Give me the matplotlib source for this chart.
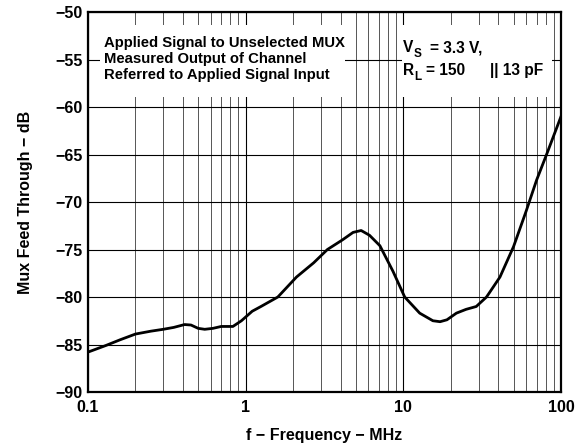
import numpy as np
import matplotlib.pyplot as plt
from matplotlib.patches import Rectangle
from matplotlib.ticker import FixedLocator, NullFormatter

plt.rcParams['font.family'] = ['Liberation Sans', 'DejaVu Sans']
plt.rcParams['font.weight'] = 'bold'

# feed-through curve
freq_mhz = [0.1, 0.13, 0.16, 0.2, 0.25, 0.3, 0.35, 0.41, 0.45, 0.5, 0.55,
            0.62, 0.7, 0.83, 0.94, 1.1, 1.25, 1.6, 2.1, 2.7, 3.3, 4.1, 4.8,
            5.4, 6.1, 7.1, 8.6, 10.2, 12.7, 15.4, 17.1, 18.9, 21.7, 25, 29,
            33.7, 41, 50, 60, 70, 81, 90, 100]
feed_db = [-85.8, -85.1, -84.5, -83.9, -83.6, -83.4, -83.2, -82.9, -82.95,
           -83.3, -83.4, -83.3, -83.1, -83.1, -82.5, -81.5, -81.0, -80.0,
           -77.9, -76.4, -75.0, -74.0, -73.2, -73.0, -73.5, -74.6, -77.3,
           -80.0, -81.7, -82.5, -82.6, -82.4, -81.7, -81.3, -81.0, -80.0,
           -77.9, -74.7, -71.0, -67.7, -65.0, -63.0, -61.0]

x_ticks = [0.1, 1, 10, 100]
x_labels = ['0.1', '1', '10', '100']
y_ticks = list(range(-90, -45, 5))
y_labels = ['\u2212%d' % abs(v) for v in y_ticks]

note_left = ['Applied Signal to Unselected MUX',
             'Measured Output of Channel',
             'Referred to Applied Signal Input']

fig = plt.figure(figsize=(5.8, 4.44), dpi=100)
ax = fig.add_axes([88 / 580, 1 - 392 / 444, 473 / 580, 380 / 444])

ax.set_xscale('log')
ax.set_xlim(0.1, 100)
ax.set_ylim(-90, -50)

minors = [m * d for d in (0.1, 1, 10) for m in range(2, 10)]
ax.xaxis.set_major_locator(FixedLocator(x_ticks))
ax.xaxis.set_minor_locator(FixedLocator(minors))
ax.xaxis.set_minor_formatter(NullFormatter())
ax.set_xticks(x_ticks)
ax.set_xticklabels(x_labels)
ax.set_yticks(y_ticks)
ax.set_yticklabels(y_labels)
ax.tick_params(which='both', length=0, labelsize=11.5, pad=4)
ax.tick_params(axis='x', pad=6)
for lab in ax.get_xticklabels() + ax.get_yticklabels():
    lab.set_fontweight('bold')

ax.grid(True, axis='y', color='black', lw=0.8)
ax.grid(True, axis='x', which='major', color='black', lw=0.8)
ax.grid(True, axis='x', which='minor', color='#555555', lw=0.7)
ax.set_axisbelow(True)

for s in ax.spines.values():
    s.set_linewidth(1.6)

# white panels behind the notes
ax.add_patch(Rectangle((0.025, 0.776), 0.518, 0.19, transform=ax.transAxes,
                       facecolor='white', edgecolor='none', zorder=1.5))
ax.add_patch(Rectangle((0.664, 0.776), 0.317, 0.19, transform=ax.transAxes,
                       facecolor='white', edgecolor='none', zorder=1.5))

ax.plot(freq_mhz, feed_db, color='black', lw=2, zorder=3)

for i, line in enumerate(note_left):
    ax.text(0.034, 0.918 - i * 0.042, line, transform=ax.transAxes,
            fontsize=10.7, fontweight='bold', va='center', zorder=4)

big = dict(transform=ax.transAxes, fontsize=11.2, fontweight='bold',
           va='center', zorder=4)
small = dict(transform=ax.transAxes, fontsize=8.5, fontweight='bold',
             va='center', zorder=4)
ax.text(0.666, 0.906, 'V', **big)
ax.text(0.689, 0.890, 'S', **small)
ax.text(0.723, 0.906, '= 3.3 V,', **big)
ax.text(0.666, 0.845, 'R', **big)
ax.text(0.689, 0.829, 'L', **small)
ax.text(0.715, 0.845, '= 150', **big)
ax.text(0.850, 0.845, '|| 13 pF', **big)

ax.set_xlabel('f \u2212 Frequency \u2212 MHz', fontsize=11.5,
              fontweight='bold', labelpad=9)
ax.set_ylabel('Mux Feed Through \u2212 dB', fontsize=11.5,
              fontweight='bold', labelpad=16)

fig.savefig('out.png', dpi=100)
